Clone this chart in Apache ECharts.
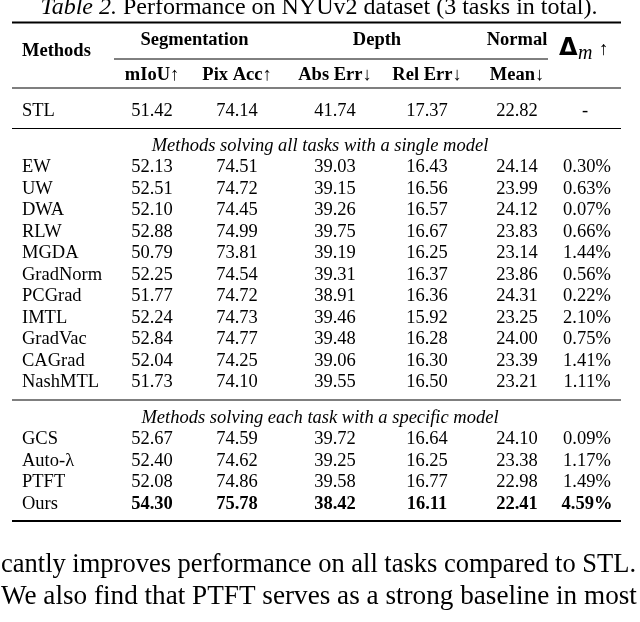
<!DOCTYPE html>
<html>
<head>
<meta charset="utf-8">
<script src="https://cdn.jsdelivr.net/npm/echarts@6/dist/echarts.min.js"></script>
<style>
html,body{margin:0;padding:0;background:#fff;}
#chart{width:640px;height:622px;}
</style>
</head>
<body>
<div id="chart"></div>
<script>
// ---------------- DATA ----------------
const captionLabel = 'Table 2.';
const captionText = ' Performance on NYUv2 dataset (3 tasks in total).';
const groupHeaders = ['Segmentation', 'Depth', 'Normal'];
const metricHeaders = ['mIoU\u2191', 'Pix Acc\u2191', 'Abs Err\u2193', 'Rel Err\u2193', 'Mean\u2193'];
const methodsHeader = 'Methods';

const stlName = 'STL';
const stlValues = [51.42, 74.14, 41.74, 17.37, 22.82];
const stlDelta = '-';

const sectionSingle = 'Methods solving all tasks with a single model';
const singleMethods = ['EW', 'UW', 'DWA', 'RLW', 'MGDA', 'GradNorm', 'PCGrad', 'IMTL', 'GradVac', 'CAGrad', 'NashMTL'];
const singleMIoU   = [52.13, 52.51, 52.10, 52.88, 50.79, 52.25, 51.77, 52.24, 52.84, 52.04, 51.73];
const singlePixAcc = [74.51, 74.72, 74.45, 74.99, 73.81, 74.54, 74.72, 74.73, 74.77, 74.25, 74.10];
const singleAbsErr = [39.03, 39.15, 39.26, 39.75, 39.19, 39.31, 38.91, 39.46, 39.48, 39.06, 39.55];
const singleRelErr = [16.43, 16.56, 16.57, 16.67, 16.25, 16.37, 16.36, 15.92, 16.28, 16.30, 16.50];
const singleMean   = [24.14, 23.99, 24.12, 23.83, 23.14, 23.86, 24.31, 23.25, 24.00, 23.39, 23.21];
const singleDelta  = [0.30, 0.63, 0.07, 0.66, 1.44, 0.56, 0.22, 2.10, 0.75, 1.41, 1.11];

const sectionSpecific = 'Methods solving each task with a specific model';
const specificMethods = ['GCS', 'Auto-\u03BB', 'PTFT', 'Ours'];
const specificMIoU   = [52.67, 52.40, 52.08, 54.30];
const specificPixAcc = [74.59, 74.62, 74.86, 75.78];
const specificAbsErr = [39.72, 39.25, 39.58, 38.42];
const specificRelErr = [16.64, 16.25, 16.77, 16.11];
const specificMean   = [24.10, 23.38, 22.98, 22.41];
const specificDelta  = [0.09, 1.17, 1.49, 4.59];
const boldMethod = 'Ours';

const bodyLines = [
  'cantly improves performance on all tasks compared to STL.',
  'We also find that PTFT serves as a strong baseline in most'
];

// ---------------- LAYOUT ----------------
const SERIF = "'Liberation Serif', 'Times New Roman', serif";
const INK = '#000';
const COLX = { method: 22, c1: 152, c2: 237, c3: 335, c4: 427, c5: 517, delta: 587 };
const dataCols = ['c1', 'c2', 'c3', 'c4', 'c5'];
const ROW_H = 21.5;
const RULE_L = 12, RULE_R = 621;
const FS = 18.5;
const BODY_STRETCH = [1.0, 1.026];   // justified paragraph lines

const cells = [];
const rules = [];
function cell(x, y, text, opt) { cells.push(Object.assign({ x: x, y: y, text: text }, opt || {})); }
function rule(y, w, x1, x2) { rules.push({ y: y, w: w, x1: x1 == null ? RULE_L : x1, x2: x2 == null ? RULE_R : x2 }); }

// caption
cell(319, 8, '', { caption: true });
// rules + headers
rule(22.5, 2);
cell(COLX.method, 51, methodsHeader, { bold: true, align: 'left' });
cell((COLX.c1 + COLX.c2) / 2, 40, groupHeaders[0], { bold: true });
cell((COLX.c3 + COLX.c4) / 2 - 4, 40, groupHeaders[1], { bold: true });
cell(COLX.c5, 40, groupHeaders[2], { bold: true });
rule(59, 1, 114, 548);
metricHeaders.forEach(function (h, i) { cell(COLX[dataCols[i]], 75, h, { bold: true }); });
cell(COLX.delta, 50, '', { delta: true });
rule(88, 1.2);

// STL
let y = 111;
cell(COLX.method, y, stlName, { align: 'left' });
stlValues.forEach(function (v, i) { cell(COLX[dataCols[i]], y, v.toFixed(2)); });
cell(COLX.delta - 2, y, stlDelta);
rule(y + 17.5, 1.2);

function block(sectionY, title, names, arrs, deltas) {
  cell(320, sectionY, title, { italic: true });
  let ry = sectionY + ROW_H;
  names.forEach(function (n, r) {
    const b = n === boldMethod;
    cell(COLX.method, ry, n, { align: 'left' });
    arrs.forEach(function (arr, i) { cell(COLX[dataCols[i]], ry, arr[r].toFixed(2), { bold: b }); });
    cell(COLX.delta, ry, deltas[r].toFixed(2) + '%', { bold: b });
    ry += ROW_H;
  });
  return ry - ROW_H;
}
let last = block(146, sectionSingle, singleMethods,
  [singleMIoU, singlePixAcc, singleAbsErr, singleRelErr, singleMean], singleDelta);
rule(last + 17.5, 1.2);
last = block(last + 35.5, sectionSpecific, specificMethods,
  [specificMIoU, specificPixAcc, specificAbsErr, specificRelErr, specificMean], specificDelta);
rule(last + 17, 2);

bodyLines.forEach(function (t, i) { cell(1, 565 + i * 32, t, { align: 'left', body: true, stretch: BODY_STRETCH[i] }); });

// ---------------- CHART ----------------
const chart = echarts.init(document.getElementById('chart'), null, { renderer: 'canvas' });
chart.setOption({
  animation: false,
  grid: { left: 0, right: 0, top: 0, bottom: 0 },
  xAxis: { type: 'value', min: 0, max: 640, show: false },
  yAxis: { type: 'value', min: 0, max: 622, inverse: true, show: false },
  series: [
    {
      type: 'custom',
      data: rules.map(function (r) { return [r.x1, r.y, r.x2, r.w]; }),
      renderItem: function (params, api) {
        const p1 = api.coord([api.value(0), api.value(1)]);
        const p2 = api.coord([api.value(2), api.value(1)]);
        return { type: 'line', shape: { x1: p1[0], y1: p1[1], x2: p2[0], y2: p2[1] },
          style: { stroke: INK, lineWidth: api.value(3) } };
      }
    },
    {
      type: 'custom',
      data: cells.map(function (c) { return [c.x, c.y]; }),
      renderItem: function (params, api) {
        const c = cells[params.dataIndex];
        const p = api.coord([api.value(0), api.value(1)]);
        if (c.caption) {
          return { type: 'text', x: p[0], y: p[1], style: {
            text: '{i|' + captionLabel + '}{r|' + captionText + '}',
            align: 'center', verticalAlign: 'middle',
            rich: {
              i: { fontFamily: SERIF, fontSize: 24, fontStyle: 'italic', fill: INK },
              r: { fontFamily: SERIF, fontSize: 24, fill: INK }
            } } };
        }
        if (c.delta) {
          return { type: 'group', children: [
            { type: 'text', x: p[0] - 28, y: p[1] - 1, style: { text: '\u0394', fontFamily: "'DejaVu Sans', sans-serif", fontWeight: 'bold', fontSize: 24, fill: INK, align: 'left', verticalAlign: 'middle' } },
            { type: 'text', x: p[0] - 9, y: p[1] + 4, style: { text: 'm', fontFamily: SERIF, fontStyle: 'italic', fontSize: 20, fill: INK, align: 'left', verticalAlign: 'middle' } },
            { type: 'text', x: p[0] + 12, y: p[1], style: { text: '\u2191', fontFamily: SERIF, fontSize: 19, fill: INK, align: 'left', verticalAlign: 'middle' } }
          ] };
        }
        return { type: 'text', x: p[0], y: p[1], scaleX: c.stretch || 1, style: {
          text: c.text,
          fontFamily: SERIF,
          fontSize: c.body ? 26.5 : FS,
          fontWeight: c.bold ? 'bold' : 'normal',
          fontStyle: c.italic ? 'italic' : 'normal',
          fill: INK,
          align: c.align || 'center',
          verticalAlign: 'middle'
        } };
      }
    }
  ]
});
</script>
</body>
</html>
